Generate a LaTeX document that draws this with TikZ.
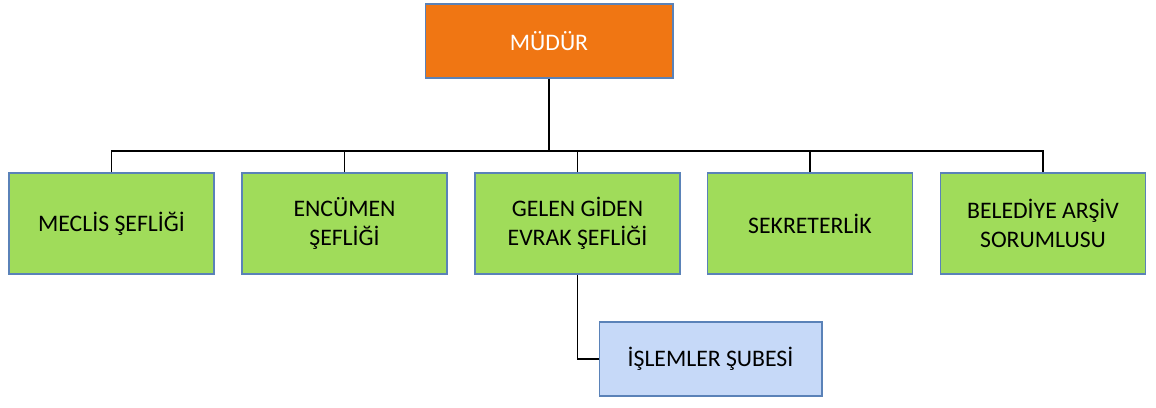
\documentclass[tikz,border=0pt]{standalone}
\usepackage{fontspec}
\setmainfont{Carlito}
\definecolor{mudurfill}{HTML}{F07613}
\definecolor{seffill}{HTML}{A0DC5A}
\definecolor{subefill}{HTML}{C6D9F8}
\definecolor{kenar}{HTML}{5A82B8}
\begin{document}
\begin{tikzpicture}[x=0.02cm, y=0.02cm,
   kutu/.style={draw=kenar, line width=0.6pt, align=center, inner sep=0pt,
     font=\fontsize{13.5}{16.5}\selectfont},
   sef/.style={kutu, fill=seffill, minimum width=4.1cm, minimum height=2.02cm},
   hat/.style={line width=1.1pt}]
   \useasboundingbox (0,0) rectangle (1156,408);
   \node[kutu, fill=mudurfill, text=white, minimum width=4.96cm, minimum height=1.48cm] (mudur) at (549,367) {MÜDÜR};
   \node[sef] (meclis) at (111.5,184.5) {MECLİS ŞEFLİĞİ};
   \node[sef] (encumen) at (344.5,184.5) {ENCÜMEN\\ŞEFLİĞİ};
   \node[sef] (evrak) at (577.5,184.5) {GELEN GİDEN\\EVRAK ŞEFLİĞİ};
   \node[sef] (sekreter) at (810,184.5) {SEKRETERLİK};
   \node[sef] (arsiv) at (1043,184.5) {BELEDİYE ARŞİV\\SORUMLUSU};
   \node[kutu, fill=subefill, minimum width=4.46cm, minimum height=1.48cm] (islem) at (710.5,49) {İŞLEMLER ŞUBESİ};
   \coordinate (bar) at (549,257);
   \draw[hat] (mudur.south) -- (bar);
   \draw[hat] (meclis.north) -- (meclis.north |- bar) -- (arsiv.north |- bar) -- (arsiv.north);
   \draw[hat] (encumen.north) -- (encumen.north |- bar);
   \draw[hat] (evrak.north) -- (evrak.north |- bar);
   \draw[hat] (sekreter.north) -- (sekreter.north |- bar);
   \draw[hat] (evrak.south) |- (islem.west);
\end{tikzpicture}
\end{document}
